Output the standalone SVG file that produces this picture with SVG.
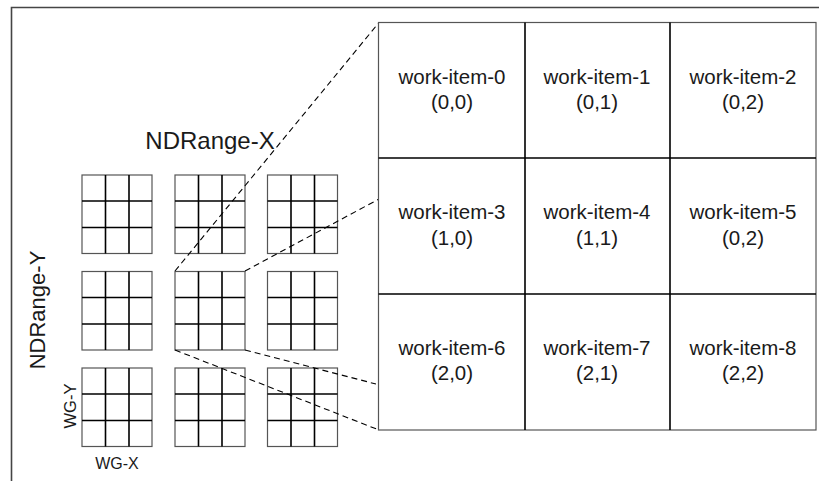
<svg xmlns="http://www.w3.org/2000/svg" width="819" height="481" viewBox="0 0 819 481">
<defs>
<style>
.frame{fill:none;stroke:#454545;stroke-width:1.6}
.gb{fill:#fff;stroke:#555;stroke-width:1.2}
.gi{stroke:#000;stroke-width:1.6;fill:none}
.dash{fill:none;stroke:#000;stroke-width:1.1;stroke-dasharray:6,4}
.t{font-family:"Liberation Sans",Arial,sans-serif;fill:#1a1a1a;text-anchor:middle}
.wi{font-size:20.5px}
</style>
<g id="wg">
<rect class="gb" x="0" y="0" width="70" height="78.5"/>
<path class="gi" d="M23.5 0V78.5M47 0V78.5M0 26H70M0 52.5H70"/>
</g>
</defs>
<rect width="819" height="481" fill="#fff"/>
<path id="frame" class="frame" d="M11.5 481V7.5H819"/>
<g id="workgroups">
<use id="wg00" href="#wg" x="82" y="175"/>
<use id="wg01" href="#wg" x="175" y="175"/>
<use id="wg02" href="#wg" x="267.5" y="175"/>
<use id="wg10" href="#wg" x="82" y="271.5"/>
<use id="wg11" href="#wg" x="175" y="271.5"/>
<use id="wg12" href="#wg" x="267.5" y="271.5"/>
<use id="wg20" href="#wg" x="82" y="368"/>
<use id="wg21" href="#wg" x="175" y="368"/>
<use id="wg22" href="#wg" x="267.5" y="368"/>
</g>
<g id="connectors">
<line class="dash" x1="175" y1="271" x2="379" y2="22.5"/>
<line class="dash" x1="245" y1="271" x2="379" y2="199"/>
<line class="dash" x1="245" y1="350" x2="376" y2="384"/>
<line class="dash" x1="175" y1="350" x2="379" y2="430"/>
</g>
<g id="workgroup-detail">
<rect class="gb" x="378.5" y="22.5" width="437.5" height="407.5"/>
<path class="gi" d="M525 22.5V430M670 22.5V430M378.5 158H816M378.5 294H816"/>
</g>
<g id="wi0"><text class="t wi" x="452" y="84">work-item-0</text><text class="t wi" x="452" y="109">(0,0)</text></g>
<g id="wi1"><text class="t wi" x="597" y="84">work-item-1</text><text class="t wi" x="597" y="109">(0,1)</text></g>
<g id="wi2"><text class="t wi" x="743" y="84">work-item-2</text><text class="t wi" x="743" y="109">(0,2)</text></g>
<g id="wi3"><text class="t wi" x="452" y="219">work-item-3</text><text class="t wi" x="452" y="245">(1,0)</text></g>
<g id="wi4"><text class="t wi" x="597" y="219">work-item-4</text><text class="t wi" x="597" y="245">(1,1)</text></g>
<g id="wi5"><text class="t wi" x="743" y="219">work-item-5</text><text class="t wi" x="743" y="245">(0,2)</text></g>
<g id="wi6"><text class="t wi" x="452" y="355">work-item-6</text><text class="t wi" x="452" y="380">(2,0)</text></g>
<g id="wi7"><text class="t wi" x="597" y="355">work-item-7</text><text class="t wi" x="597" y="380">(2,1)</text></g>
<g id="wi8"><text class="t wi" x="743" y="355">work-item-8</text><text class="t wi" x="743" y="380">(2,2)</text></g>
<g id="labels">
<text class="t" x="210" y="149" font-size="24">NDRange-X</text>
<text class="t" font-size="22" transform="translate(45,310) rotate(-90)">NDRange-Y</text>
<text class="t" font-size="16.5" transform="translate(76,406) rotate(-90)">WG-Y</text>
<text class="t" x="117" y="469" font-size="16">WG-X</text>
</g>
</svg>
